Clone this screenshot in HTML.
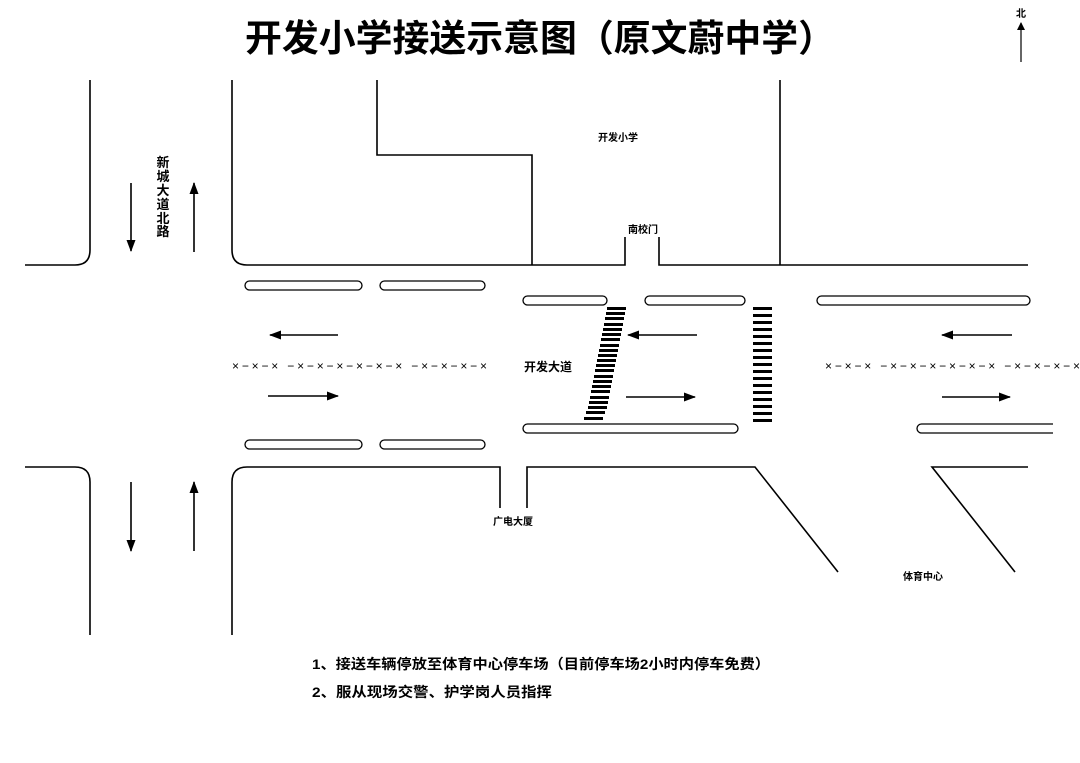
<!DOCTYPE html>
<html><head><meta charset="utf-8"><style>
html,body{margin:0;padding:0;background:#fff;}
svg{display:block;font-family:"Liberation Sans","Noto Sans CJK SC",sans-serif;}
</style></head><body>
<svg width="1080" height="763" viewBox="0 0 1080 763" xmlns="http://www.w3.org/2000/svg">
<defs>
<marker id="ah" markerWidth="12" markerHeight="9" refX="11" refY="4.5" orient="auto" markerUnits="userSpaceOnUse">
<path d="M0,0 L12,4.5 L0,9 z" fill="#000"/></marker>
<marker id="ahs" markerWidth="8" markerHeight="8" refX="7" refY="4" orient="auto" markerUnits="userSpaceOnUse">
<path d="M0,0 L8,4 L0,8 z" fill="#000"/></marker>
</defs>
<text x="540" y="51" text-anchor="middle" font-size="37" font-weight="bold" textLength="590" lengthAdjust="spacingAndGlyphs">开发小学接送示意图（原文蔚中学）</text>
<text x="1021" y="17" text-anchor="middle" font-size="10" font-weight="bold">北</text>
<line x1="1021" y1="62" x2="1021" y2="23" stroke="#000" stroke-width="1.2" marker-end="url(#ahs)"/>
<g fill="none" stroke="#000" stroke-width="1.6">
<path d="M90,80 V250 Q90,265 75,265 H25"/>
<path d="M232,80 V250 Q232,265 247,265 H625 V237"/>
<path d="M377,80 V155 H532 V265"/>
<path d="M659,237 V265 H1028"/>
<path d="M780,80 V265"/>
<path d="M25,467 H75 Q90,467 90,482 V635"/>
<path d="M232,635 V482 Q232,467 247,467 H500 V508"/>
<path d="M527,508 V467 H755 L838,572"/>
<path d="M1028,467 H932 L1015,572"/>
<g stroke-width="1.3">
<rect x="245" y="281" width="117" height="9" rx="4.5"/>
<rect x="380" y="281" width="105" height="9" rx="4.5"/>
<rect x="523" y="296" width="84" height="9" rx="4.5"/>
<rect x="645" y="296" width="100" height="9" rx="4.5"/>
<rect x="817" y="296" width="213" height="9" rx="4.5"/>
<rect x="245" y="440" width="117" height="9" rx="4.5"/>
<rect x="380" y="440" width="105" height="9" rx="4.5"/>
<rect x="523" y="424" width="215" height="9" rx="4.5"/>
<path d="M1053,424 H921.5 a4.5,4.5 0 0 0 0,9 H1053"/>
</g>
</g>
<g stroke="#000" stroke-width="1.6" fill="none">
<line x1="338" y1="335" x2="270" y2="335" marker-end="url(#ah)"/>
<line x1="268" y1="396" x2="338" y2="396" marker-end="url(#ah)"/>
<line x1="697" y1="335" x2="628" y2="335" marker-end="url(#ah)"/>
<line x1="626" y1="397" x2="695" y2="397" marker-end="url(#ah)"/>
<line x1="1012" y1="335" x2="942" y2="335" marker-end="url(#ah)"/>
<line x1="942" y1="397" x2="1010" y2="397" marker-end="url(#ah)"/>
<line x1="131" y1="183" x2="131" y2="251" marker-end="url(#ah)"/>
<line x1="194" y1="252" x2="194" y2="183" marker-end="url(#ah)"/>
<line x1="131" y1="482" x2="131" y2="551" marker-end="url(#ah)"/>
<line x1="194" y1="551" x2="194" y2="482" marker-end="url(#ah)"/>
</g>
<g fill="#000">
<rect x="607" y="307" width="19" height="3"/><rect x="606" y="312" width="19" height="3"/>
<rect x="605" y="317" width="19" height="3"/><rect x="604" y="323" width="19" height="3"/>
<rect x="603" y="328" width="19" height="3"/><rect x="602" y="333" width="19" height="3"/>
<rect x="601" y="338" width="19" height="3"/><rect x="600" y="344" width="19" height="3"/>
<rect x="599" y="349" width="19" height="3"/><rect x="598" y="354" width="19" height="3"/>
<rect x="597" y="359" width="19" height="3"/><rect x="596" y="364" width="19" height="3"/>
<rect x="595" y="369" width="19" height="3"/><rect x="594" y="375" width="19" height="3"/>
<rect x="593" y="380" width="19" height="3"/><rect x="592" y="385" width="19" height="3"/>
<rect x="591" y="390" width="19" height="3"/><rect x="590" y="396" width="19" height="3"/>
<rect x="589" y="401" width="19" height="3"/><rect x="588" y="406" width="19" height="3"/>
<rect x="586" y="411" width="19" height="3"/><rect x="584" y="417" width="19" height="3"/>
</g>
<g fill="#000">
<rect x="753" y="307" width="19" height="3"/><rect x="753" y="314" width="19" height="3"/>
<rect x="753" y="321" width="19" height="3"/><rect x="753" y="328" width="19" height="3"/>
<rect x="753" y="335" width="19" height="3"/><rect x="753" y="342" width="19" height="3"/>
<rect x="753" y="349" width="19" height="3"/><rect x="753" y="356" width="19" height="3"/>
<rect x="753" y="363" width="19" height="3"/><rect x="753" y="370" width="19" height="3"/>
<rect x="753" y="377" width="19" height="3"/><rect x="753" y="384" width="19" height="3"/>
<rect x="753" y="391" width="19" height="3"/><rect x="753" y="398" width="19" height="3"/>
<rect x="753" y="405" width="19" height="3"/><rect x="753" y="412" width="19" height="3"/>
<rect x="753" y="419" width="19" height="3"/>
</g>
<text x="232" y="370" font-size="12" textLength="255" lengthAdjust="spacing">×−×−× −×−×−×−×−×−× −×−×−×−×</text>
<text x="825" y="370" font-size="12" textLength="255" lengthAdjust="spacing">×−×−× −×−×−×−×−×−× −×−×−×−×</text>
<g font-weight="bold" fill="#000">
<text x="548" y="371" text-anchor="middle" font-size="12">开发大道</text>
<text x="618" y="141" text-anchor="middle" font-size="10">开发小学</text>
<text x="643" y="233" text-anchor="middle" font-size="10">南校门</text>
<text x="513" y="525" text-anchor="middle" font-size="10">广电大厦</text>
<text x="923" y="580" text-anchor="middle" font-size="10">体育中心</text>
<g font-size="13" text-anchor="middle">
<text x="163" y="167">新</text><text x="163" y="181">城</text><text x="163" y="195">大</text>
<text x="163" y="209">道</text><text x="163" y="223">北</text><text x="163" y="236">路</text>
</g>
<text x="312" y="669" font-size="14" textLength="458" lengthAdjust="spacingAndGlyphs">1、接送车辆停放至体育中心停车场（目前停车场2小时内停车免费）</text>
<text x="312" y="697" font-size="14" textLength="240" lengthAdjust="spacingAndGlyphs">2、服从现场交警、护学岗人员指挥</text>
</g>
</svg>
</body></html>
